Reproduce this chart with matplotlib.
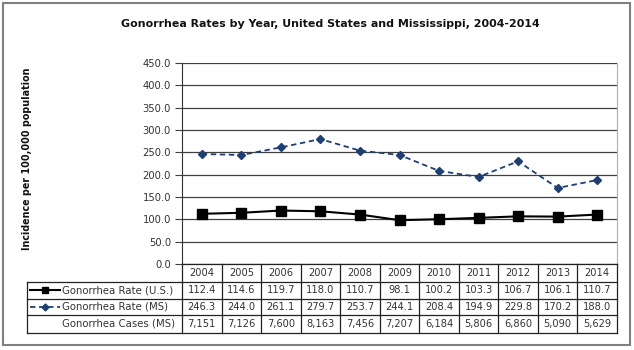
import matplotlib.pyplot as plt
import matplotlib.transforms as mtransforms
from matplotlib.lines import Line2D
from matplotlib.patches import Rectangle

years = ['2004', '2005', '2006', '2007', '2008', '2009', '2010', '2011', '2012', '2013', '2014']
rate_us = [112.4, 114.6, 119.7, 118.0, 110.7, 98.1, 100.2, 103.3, 106.7, 106.1, 110.7]
rate_ms = [246.3, 244.0, 261.1, 279.7, 253.7, 244.1, 208.4, 194.9, 229.8, 170.2, 188.0]
cases_ms = ['7,151', '7,126', '7,600', '8,163', '7,456', '7,207', '6,184', '5,806', '6,860', '5,090', '5,629']
row_labels = ['Gonorrhea Rate (U.S.)', 'Gonorrhea Rate (MS)', 'Gonorrhea Cases (MS)']
yticks = [0, 50, 100, 150, 200, 250, 300, 350, 400, 450]

W, H = 634, 350
MS_COLOR = '#1F3F73'
TXT = '#333333'

plt.rcParams['font.family'] = 'DejaVu Sans'

fig = plt.figure(figsize=(W / 100, H / 100), dpi=100)


def fy(py):
    return 1 - py / H


def fx(px):
    return px / W


# outer frame
fig.add_artist(Rectangle((fx(3), fy(345)), fx(627), 342 / H, transform=fig.transFigure,
                         fill=False, edgecolor='#808080', linewidth=1.5))

fig.text(fx(330), fy(24), 'Gonorrhea Rates by Year, United States and Mississippi, 2004-2014',
         ha='center', va='center', fontsize=7.9, fontweight='bold', color='#111111')

ax = fig.add_axes([fx(182), fy(264), fx(617) - fx(182), (264 - 63) / H])
x = list(range(len(years)))
ax.plot(x, rate_us, color='black', linewidth=1.5, marker='s', markersize=6.5)
ax.plot(x, rate_ms, color=MS_COLOR, linewidth=1.3, linestyle=(0, (3, 2)), marker='D', markersize=4)

ax.set_xlim(-0.5, len(years) - 0.5)
ax.set_ylim(0, 450)
ax.set_yticks(yticks)
ax.set_yticklabels([f'{v:.1f}' for v in yticks], fontsize=7.2, color=TXT)
ax.set_xticks([])
ax.yaxis.grid(True, color='#404040', linewidth=0.9)
ax.set_axisbelow(True)
ax.tick_params(axis='y', length=5, width=0.8, color='#404040', pad=3)
for s in ['top', 'bottom']:
    ax.spines[s].set_visible(False)
ax.spines['right'].set_color('#b0b0b0')
ax.spines['left'].set_color('#303030')

fig.text(fx(27), fy(159), 'Incidence per 100,000 population', rotation=90,
         ha='center', va='center', fontsize=6.9, fontweight='bold', color='#111111')

# data table
bt = mtransforms.blended_transform_factory(ax.transData, fig.transFigure)
rows_y = [264, 282, 298.5, 315, 332.5]
lc = '#222222'
fig.add_artist(Line2D([-0.5, len(years) - 0.5], [fy(264)] * 2, transform=bt, color=lc, lw=0.9))
for yy in rows_y[1:]:
    fig.add_artist(Line2D([fx(27), fx(617)], [fy(yy)] * 2, transform=fig.transFigure, color=lc, lw=0.9))
for i in range(len(years) + 1):
    fig.add_artist(Line2D([i - 0.5, i - 0.5], [fy(264), fy(332.5)], transform=bt, color=lc, lw=0.9))
fig.add_artist(Line2D([fx(27)] * 2, [fy(282), fy(332.5)], transform=fig.transFigure, color=lc, lw=0.9))

row_vals = [[f'{v:.1f}' for v in rate_us], [f'{v:.1f}' for v in rate_ms], cases_ms]
centers = [(rows_y[k] + rows_y[k + 1]) / 2 for k in range(4)]
for i, yr in enumerate(years):
    fig.text(i, fy(centers[0]), yr, transform=bt, ha='center', va='center', fontsize=7.1, color=TXT)
    for r in range(3):
        fig.text(i, fy(centers[r + 1]), row_vals[r][i], transform=bt, ha='center', va='center',
                 fontsize=7.1, color=TXT)

for r, lab in enumerate(row_labels):
    fig.text(fx(62), fy(centers[r + 1]), lab, ha='left', va='center', fontsize=7.3, color=TXT)

# legend keys
fig.add_artist(Line2D([fx(30), fx(60)], [fy(centers[1])] * 2, transform=fig.transFigure,
                      color='black', lw=1.5))
fig.add_artist(Line2D([fx(45)], [fy(centers[1])], transform=fig.transFigure, color='black',
                      marker='s', markersize=5, linestyle='none'))
fig.add_artist(Line2D([fx(30), fx(60)], [fy(centers[2])] * 2, transform=fig.transFigure,
                      color=MS_COLOR, lw=1.3, linestyle=(0, (3, 2))))
fig.add_artist(Line2D([fx(45)], [fy(centers[2])], transform=fig.transFigure, color=MS_COLOR,
                      marker='D', markersize=3.5, linestyle='none'))

fig.savefig('out.png', dpi=100)
